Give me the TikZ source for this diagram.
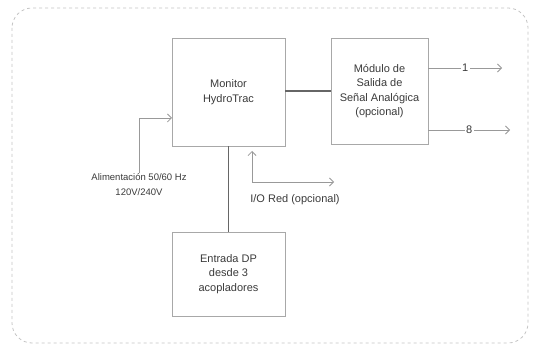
\documentclass[tikz,border=0pt]{standalone}
\usepackage{fontspec}
\setmainfont{Liberation Sans}
\usetikzlibrary{arrows.meta}
\definecolor{boxline}{HTML}{A8A8A8}
\definecolor{txt}{HTML}{3A3A3A}
\definecolor{conn}{HTML}{666666}
\definecolor{thin}{HTML}{999999}
\definecolor{outer}{HTML}{C4C4C4}
\tikzset{
  blockbox/.style={draw=boxline, line width=0.9pt, align=center, text=txt,
    font=\fontsize{11}{14.5}\selectfont, inner sep=0pt},
  link/.style={draw=conn, line width=1.6pt},
  thinarrow/.style={draw=thin, line width=0.8pt, -{Straight Barb[length=4pt,width=8pt]}},
  lbl/.style={text=txt, align=center, inner sep=1pt},
}
\begin{document}
\begin{tikzpicture}[x=1pt,y=-1pt]
\useasboundingbox (0,0) rectangle (538,347);
\draw[outer, dashed, line width=0.8pt, rounded corners=20pt] (12,8) rectangle (528,343);

\node[blockbox, minimum width=113pt, minimum height=108pt] (mon) at (228.5,92) {Monitor\\HydroTrac};
\node[blockbox, minimum width=97pt, minimum height=106pt] (mod) at (379.5,91) {Módulo de\\Salida de\\Señal Analógica\\(opcional)};
\node[blockbox, minimum width=113pt, minimum height=84pt] (ent) at (228.5,274) {Entrada DP\\desde 3\\acopladores};

\draw[link] (mon.east |- 0,91) -- (mod.west |- 0,91);
\draw[link] (mon.south) -- (ent.north);

% power
\node[lbl, font=\fontsize{9.5}{15}\selectfont] (pw) at (139,185) {Alimentación 50/60 Hz\\120V/240V};
\coordinate (pin) at (172,118);
\draw[thinarrow] (pw.north) |- (pin);

% I/O
\coordinate (iotop) at (252,151);
\coordinate (ioright) at (334,182);
\draw[thinarrow, {Straight Barb[length=4pt,width=8pt]}-{Straight Barb[length=4pt,width=8pt]}] (iotop) |- (ioright);
\node[lbl, font=\fontsize{11}{14}\selectfont] (io) at (295,200) {I/O Red (opcional)};

% outputs
\coordinate (o1) at (502,68);
\coordinate (o8) at (510,130);
\draw[thinarrow] (mod.east |- o1) -- node[fill=white, lbl, font=\fontsize{11}{14}\selectfont, inner sep=1.5pt] (l1) {1} (o1);
\draw[thinarrow] (mod.east |- o8) -- node[fill=white, lbl, font=\fontsize{11}{14}\selectfont, inner sep=1.5pt] (l8) {8} (o8);
\end{tikzpicture}
\end{document}
